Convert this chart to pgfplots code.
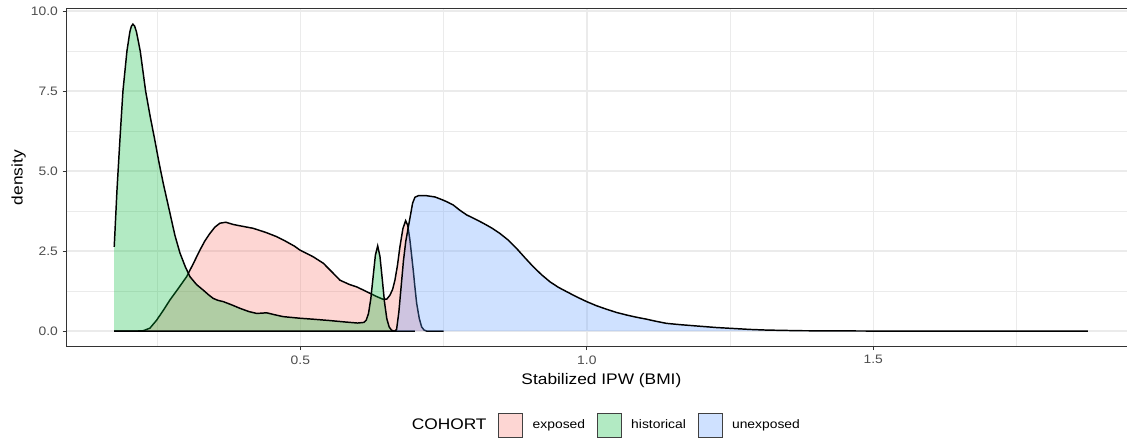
\documentclass[border=0pt]{standalone}
\usepackage{pgfplots}
\usepackage{pgfplotstable}
\pgfplotsset{compat=1.18}
\usepackage{fontspec}
\setmainfont{Liberation Sans}[FakeStretch=1.13]
\definecolor{ggred}{HTML}{F8766D}
\definecolor{gggreen}{HTML}{00BA38}
\definecolor{ggblue}{HTML}{619CFF}
\definecolor{grey92}{HTML}{EBEBEB}
\definecolor{grey20}{HTML}{333333}
\definecolor{grey30}{HTML}{4D4D4D}

\pgfplotstableread{
x y
0.1752 0
0.2150 0
0.2258 0.01
0.2375 0.09
0.2492 0.34
0.2610 0.65
0.2724 0.97
0.2870 1.33
0.3016 1.70
0.3130 2.10
0.3248 2.53
0.3335 2.82
0.3422 3.05
0.3510 3.25
0.3597 3.37
0.3700 3.40
0.3829 3.33
0.4000 3.27
0.4178 3.21
0.4400 3.08
0.4586 2.95
0.4750 2.80
0.4900 2.65
0.4993 2.53
0.5225 2.32
0.5400 2.12
0.5550 1.85
0.5691 1.59
0.5850 1.46
0.5983 1.38
0.6100 1.28
0.6215 1.18
0.6330 1.08
0.6447 0.99
0.6510 1.00
0.6564 1.12
0.6610 1.30
0.6651 1.59
0.6695 2.05
0.6738 2.63
0.6790 3.20
0.6838 3.45
0.6875 3.30
0.6913 2.84
0.6940 2.40
0.6970 1.91
0.7000 1.37
0.7030 0.87
0.7075 0.40
0.7117 0.13
0.7160 0.03
0.7204 0
0.7500 0
}\exposed

\pgfplotstableread{
x y
0.1752 2.63
0.1800 4.40
0.1852 6.00
0.1904 7.50
0.1974 8.75
0.2025 9.35
0.2050 9.52
0.2078 9.59
0.2108 9.53
0.2140 9.35
0.2206 8.75
0.2300 7.50
0.2380 6.70
0.2457 6.00
0.2530 5.30
0.2607 4.62
0.2724 3.69
0.2810 3.00
0.2899 2.44
0.2990 2.02
0.3073 1.70
0.3190 1.45
0.3305 1.28
0.3400 1.13
0.3480 1.02
0.3560 0.96
0.3654 0.92
0.3800 0.82
0.3946 0.71
0.4100 0.61
0.4237 0.55
0.4330 0.56
0.4412 0.57
0.4550 0.51
0.4702 0.45
0.4993 0.40
0.5225 0.37
0.5500 0.33
0.5800 0.28
0.6000 0.25
0.6110 0.27
0.6150 0.34
0.6190 0.55
0.6230 1.01
0.6270 1.69
0.6310 2.37
0.6350 2.66
0.6390 2.33
0.6430 1.62
0.6470 0.89
0.6510 0.38
0.6550 0.13
0.6590 0.03
0.6630 0
0.7000 0
}\historical

\pgfplotstableread{
x y
0.1752 0
0.6650 0
0.6680 0.05
0.6720 0.60
0.6760 1.40
0.6800 2.20
0.6840 2.80
0.6880 3.20
0.6920 3.60
0.6960 4.00
0.7000 4.18
0.7060 4.23
0.7200 4.23
0.7350 4.19
0.7494 4.09
0.7580 4.02
0.7668 3.94
0.7780 3.78
0.7902 3.63
0.8050 3.50
0.8192 3.37
0.8340 3.22
0.8483 3.05
0.8630 2.84
0.8775 2.58
0.8920 2.29
0.9065 2.01
0.9210 1.76
0.9356 1.54
0.9500 1.37
0.9648 1.23
0.9820 1.07
0.9997 0.92
1.0170 0.79
1.0346 0.68
1.0520 0.58
1.0695 0.50
1.0870 0.43
1.1044 0.37
1.1220 0.30
1.1390 0.24
1.1625 0.20
1.1974 0.15
1.2260 0.11
1.2555 0.08
1.2850 0.05
1.3138 0.03
1.3720 0.01
1.4500 0.003
1.5000 0
1.8745 0
}\unexposed

\begin{document}
\begin{tikzpicture}
\useasboundingbox (0,0) rectangle (845.25pt,329.25pt);
\begin{axis}[
  at={(49.7pt,69.45pt)}, anchor=south west,
  scale only axis, width=802.7pt, height=253.2pt,
  xmin=0.0915, xmax=1.9594, ymin=-0.48, ymax=10.07,
  axis line style={grey20, line width=0.8pt},
  xtick={0.5,1,1.5}, minor xtick={0.25,0.75,1.25,1.75},
  ytick={0,2.5,5,7.5,10}, minor ytick={1.25,3.75,6.25,8.75},
  grid=both,
  major grid style={grey92, line width=1.2pt},
  minor grid style={grey92, line width=0.6pt},
  tick align=outside, tick pos=left,
  major tick length=2.75pt, minor tick length=0pt,
  tick style={grey20, line width=0.8pt},
  /pgf/number format/assume math mode=true,
  /pgf/number format/.cd, fixed, fixed zerofill, precision=1, /pgfplots/.cd,
  tick label style={font=\fontsize{9.2}{11}\selectfont, text=grey30},
  xticklabel style={yshift=-0.5pt},
  xlabel={Stabilized IPW (BMI)}, ylabel={density},
  label style={font=\fontsize{11.5}{13}\selectfont},
  xlabel style={at={(axis description cs:0.5,-0.101)}, anchor=center},
  ylabel style={at={(axis description cs:-0.0444,0.5)}, anchor=center},
  legend style={at={(axis description cs:0.4996,-0.2328)}, anchor=center,
    draw=none, fill=none, legend columns=-1,
    font=\fontsize{9.2}{11}\selectfont,
    nodes={inner xsep=0pt},
    /tikz/every odd column/.append style={column sep=7.3pt},
    /tikz/every even column/.append style={column sep=8.8pt}},
  legend image code/.code={\draw[#1, draw=black!75, line width=0.5pt] (0pt,-9pt) rectangle (18pt,9pt);},
]
\addlegendimage{empty legend}
\addlegendentry{\fontsize{11.5}{13}\selectfont COHORT}
\addplot[fill=ggred, fill opacity=0.3, draw=none] table {\exposed} \closedcycle;
\addlegendentry{exposed}
\addplot[black, line width=1.1pt, forget plot] table {\exposed};
\addplot[fill=gggreen, fill opacity=0.3, draw=none] table {\historical} \closedcycle;
\addlegendentry{historical}
\addplot[black, line width=1.1pt, forget plot] table {\historical};
\addplot[fill=ggblue, fill opacity=0.3, draw=none] table {\unexposed} \closedcycle;
\addlegendentry{unexposed}
\addplot[black, line width=1.1pt, forget plot] table {\unexposed};
\end{axis}
\end{tikzpicture}
\end{document}
